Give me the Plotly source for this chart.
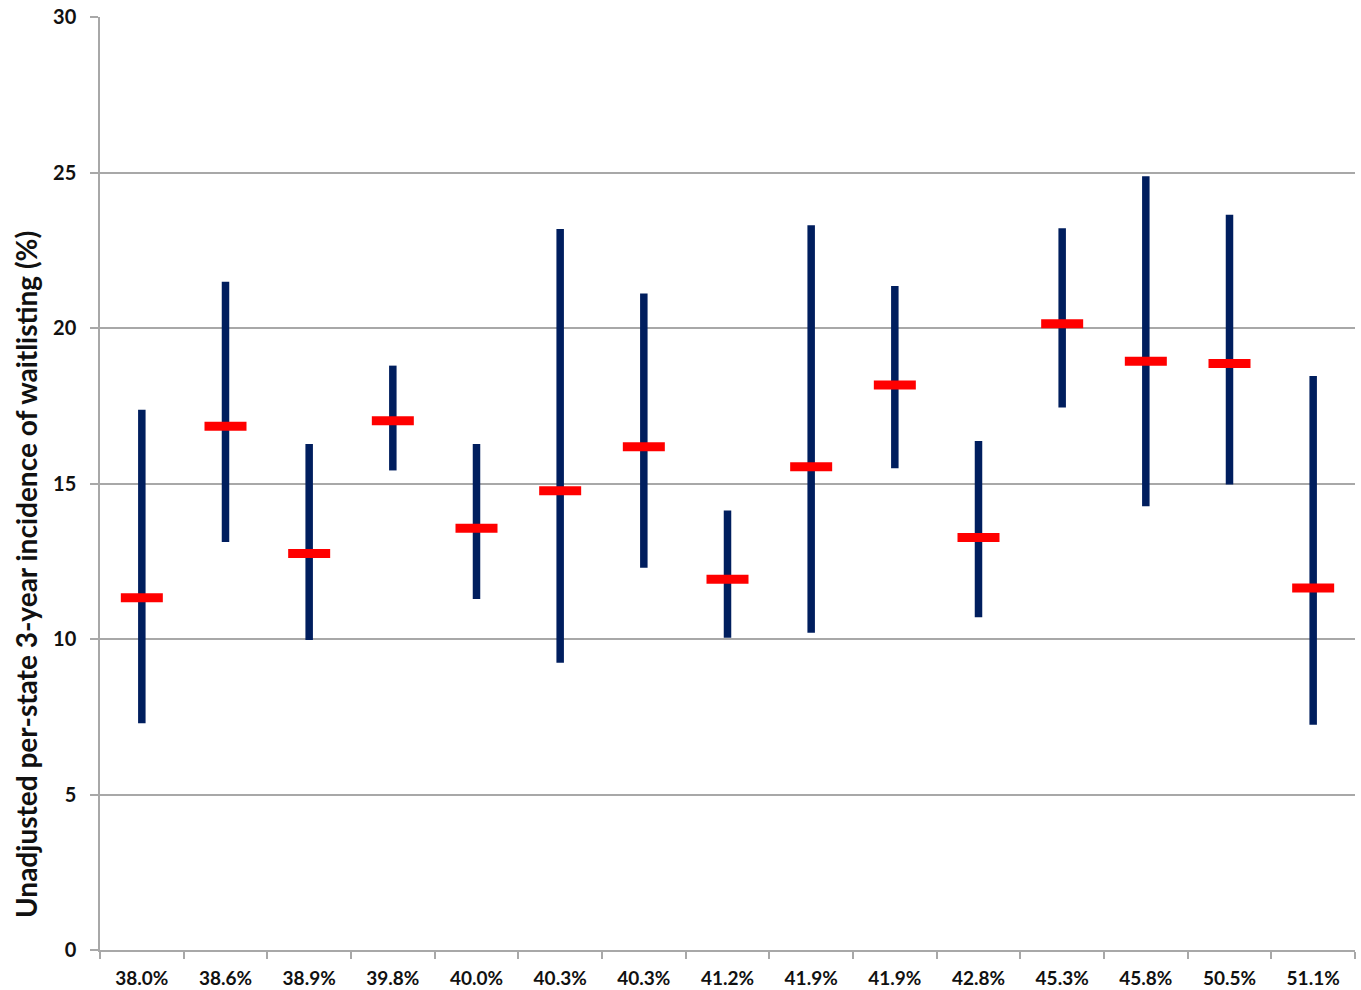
import plotly.graph_objects as go

# Per-state waitlisting incidence: point estimate with lower/upper bounds
labels = ["38.0%", "38.6%", "38.9%", "39.8%", "40.0%", "40.3%", "40.3%", "41.2%",
          "41.9%", "41.9%", "42.8%", "45.3%", "45.8%", "50.5%", "51.1%"]
estimate = [11.33, 16.84, 12.75, 17.02, 13.56, 14.77, 16.18, 11.92,
            15.54, 18.17, 13.26, 20.14, 18.93, 18.86, 11.64]
lower = [7.29, 13.12, 9.97, 15.42, 11.29, 9.24, 12.29, 10.04,
         10.20, 15.49, 10.70, 17.44, 14.27, 14.97, 7.24]
upper = [17.37, 21.49, 16.27, 18.79, 16.27, 23.18, 21.11, 14.13,
         23.30, 21.35, 16.37, 23.21, 24.88, 23.64, 18.46]

positions = list(range(len(labels)))

# Vertical range segments, separated by None gaps
seg_x, seg_y = [], []
for p, lo, hi in zip(positions, lower, upper):
    seg_x += [p, p, None]
    seg_y += [lo, hi, None]

NAVY = "#001E5E"
RED = "#FF0000"
GRID = "#A8A8A8"
FONT = "Lato"
TEXT = "#111111"

fig = go.Figure()
fig.add_trace(go.Scatter(
    x=seg_x, y=seg_y, mode="lines",
    line=dict(color=NAVY, width=7.5),
    hoverinfo="skip", showlegend=False,
))
# line-ew markers span 2.8 * size/2 pixels horizontally
fig.add_trace(go.Scatter(
    x=positions, y=estimate, mode="markers",
    marker=dict(symbol="line-ew", size=30, color=RED,
                line=dict(color=RED, width=9)),
    showlegend=False,
))

fig.update_layout(
    width=1361, height=990,
    margin=dict(l=100, r=6, t=17, b=40),
    paper_bgcolor="white", plot_bgcolor="white",
    font=dict(family=FONT, color=TEXT),
    xaxis=dict(
        range=[-0.5, len(labels) - 0.5],
        tickmode="array", tickvals=positions, ticktext=labels,
        ticks="", showgrid=False, zeroline=False, automargin=False,
        showline=True, linecolor=GRID, linewidth=1.5,
        tickfont=dict(family=FONT, size=19, color=TEXT, weight="bold"),
        ticklabelstandoff=10,
        minor=dict(
            tickmode="array",
            tickvals=[p - 0.5 for p in positions] + [len(labels) - 0.5],
            ticks="outside", ticklen=7, tickcolor=GRID, tickwidth=1.5,
            showgrid=False,
        ),
    ),
    yaxis=dict(
        range=[0, 30], dtick=5, tick0=0, automargin=False,
        showgrid=True, gridcolor=GRID, gridwidth=1.5,
        zeroline=False,
        showline=True, linecolor=GRID, linewidth=1.5,
        ticks="outside", ticklen=8, tickcolor=GRID, tickwidth=1.5,
        tickfont=dict(family=FONT, size=20, color=TEXT, weight="bold"),
        ticklabelstandoff=10,
    ),
    annotations=[dict(
        text="Unadjusted per-state 3-year incidence of waitlisting (%)",
        xref="paper", yref="paper",
        x=-0.059, y=(950 - 574) / 933, xanchor="center", yanchor="middle",
        textangle=-90, showarrow=False,
        font=dict(family=FONT, size=28, color=TEXT, weight="bold"),
    )],
)

fig.write_html("out.html")
